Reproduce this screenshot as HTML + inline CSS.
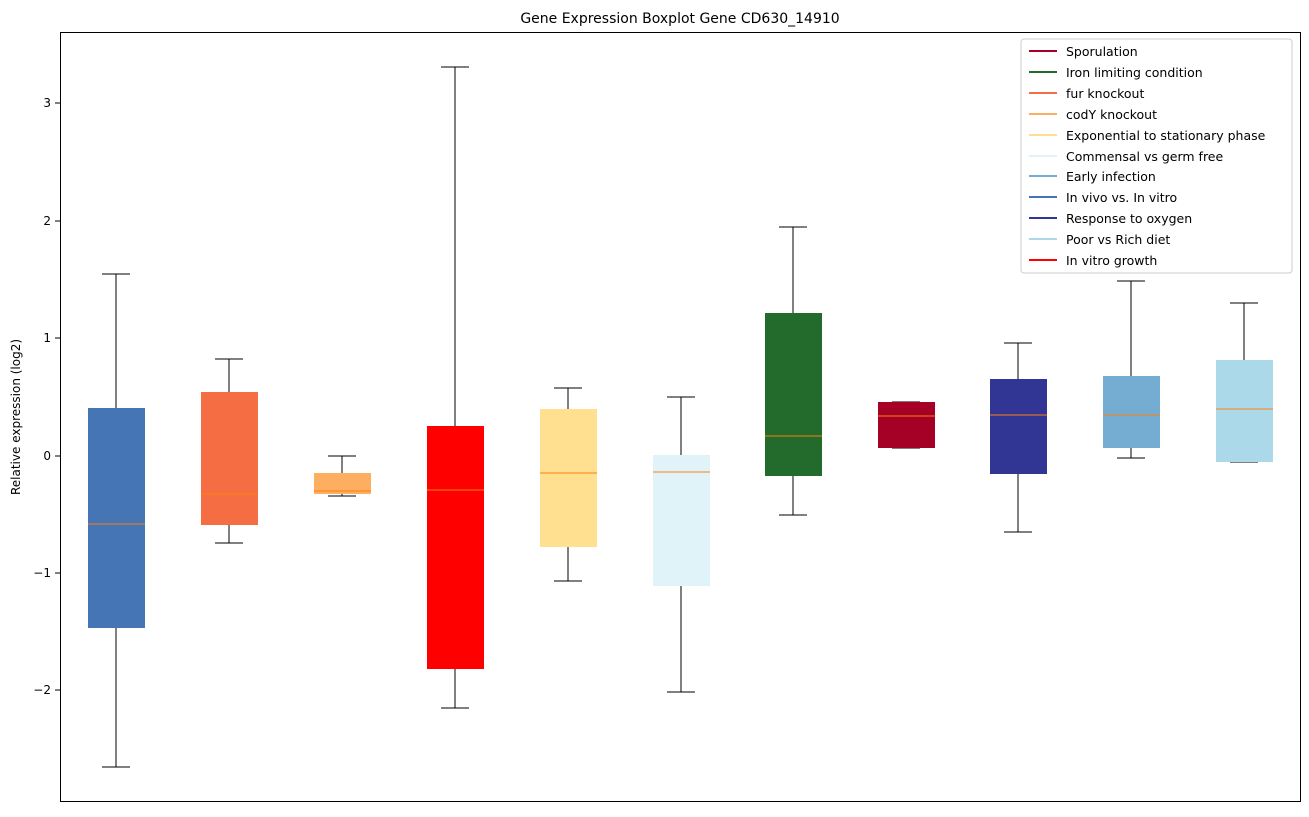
<!DOCTYPE html>
<html><head><meta charset="utf-8"><style>
body{margin:0;background:#fff;}
text{font-family:"DejaVu Sans","Liberation Sans",sans-serif;}
</style></head><body>
<svg width="1309" height="812" viewBox="0 0 1309 812" xmlns="http://www.w3.org/2000/svg">
<rect width="1309" height="812" fill="#fff"/>
<text x="680" y="23" font-size="14" text-anchor="middle">Gene Expression Boxplot Gene CD630_14910</text>
<g font-size="12" text-anchor="end">
<line x1="55" y1="103" x2="60" y2="103" stroke="#000"/><text x="51" y="107">3</text>
<line x1="55" y1="221" x2="60" y2="221" stroke="#000"/><text x="51" y="225">2</text>
<line x1="55" y1="338" x2="60" y2="338" stroke="#000"/><text x="51" y="342">1</text>
<line x1="55" y1="456" x2="60" y2="456" stroke="#000"/><text x="51" y="460">0</text>
<line x1="55" y1="573" x2="60" y2="573" stroke="#000"/><text x="51" y="577">−1</text>
<line x1="55" y1="690" x2="60" y2="690" stroke="#000"/><text x="51" y="694">−2</text>
</g>
<text transform="translate(20,417) rotate(-90)" font-size="12" text-anchor="middle">Relative expression (log2)</text>
<g stroke="#000" stroke-width="1">
<line x1="116" y1="274" x2="116" y2="408"/><line x1="116" y1="628" x2="116" y2="767"/><line x1="102" y1="274" x2="130" y2="274"/><line x1="102" y1="767" x2="130" y2="767"/>
<rect x="88" y="408" width="57" height="220" fill="#4575b4" stroke="none"/>
<line x1="229" y1="359" x2="229" y2="392"/><line x1="229" y1="525" x2="229" y2="543"/><line x1="215" y1="359" x2="243" y2="359"/><line x1="215" y1="543" x2="243" y2="543"/>
<rect x="201" y="392" width="57" height="133" fill="#f46d43" stroke="none"/>
<line x1="342" y1="456" x2="342" y2="473"/><line x1="342" y1="494" x2="342" y2="496"/><line x1="328" y1="456" x2="356" y2="456"/><line x1="328" y1="496" x2="356" y2="496"/>
<rect x="314" y="473" width="57" height="21" fill="#fdae61" stroke="none"/>
<line x1="455" y1="67" x2="455" y2="426"/><line x1="455" y1="669" x2="455" y2="708"/><line x1="441" y1="67" x2="469" y2="67"/><line x1="441" y1="708" x2="469" y2="708"/>
<rect x="427" y="426" width="57" height="243" fill="#ff0000" stroke="none"/>
<line x1="568" y1="388" x2="568" y2="409"/><line x1="568" y1="547" x2="568" y2="581"/><line x1="554" y1="388" x2="582" y2="388"/><line x1="554" y1="581" x2="582" y2="581"/>
<rect x="540" y="409" width="57" height="138" fill="#fee090" stroke="none"/>
<line x1="681" y1="397" x2="681" y2="455"/><line x1="681" y1="586" x2="681" y2="692"/><line x1="667" y1="397" x2="695" y2="397"/><line x1="667" y1="692" x2="695" y2="692"/>
<rect x="653" y="455" width="57" height="131" fill="#e0f3f8" stroke="none"/>
<line x1="793" y1="227" x2="793" y2="313"/><line x1="793" y1="476" x2="793" y2="515"/><line x1="779" y1="227" x2="807" y2="227"/><line x1="779" y1="515" x2="807" y2="515"/>
<rect x="765" y="313" width="57" height="163" fill="#226b2d" stroke="none"/>
<line x1="892" y1="402" x2="920" y2="402"/><line x1="892" y1="448" x2="920" y2="448"/>
<rect x="878" y="402" width="57" height="46" fill="#a50026" stroke="none"/>
<line x1="1018" y1="343" x2="1018" y2="379"/><line x1="1018" y1="474" x2="1018" y2="532"/><line x1="1004" y1="343" x2="1032" y2="343"/><line x1="1004" y1="532" x2="1032" y2="532"/>
<rect x="990" y="379" width="57" height="95" fill="#313695" stroke="none"/>
<line x1="1131" y1="281" x2="1131" y2="376"/><line x1="1131" y1="448" x2="1131" y2="458"/><line x1="1117" y1="281" x2="1145" y2="281"/><line x1="1117" y1="458" x2="1145" y2="458"/>
<rect x="1103" y="376" width="57" height="72" fill="#74add1" stroke="none"/>
<line x1="1244" y1="303" x2="1244" y2="360"/><line x1="1230" y1="303" x2="1258" y2="303"/><line x1="1230" y1="462" x2="1258" y2="462"/>
<rect x="1216" y="360" width="57" height="102" fill="#abd9e9" stroke="none"/>
</g>
<g stroke="#ff7f0e" stroke-width="1">
<line x1="88" y1="524" x2="145" y2="524"/><line x1="201" y1="494" x2="258" y2="494"/><line x1="314" y1="491" x2="371" y2="491"/><line x1="427" y1="490" x2="484" y2="490"/><line x1="540" y1="473" x2="597" y2="473"/><line x1="653" y1="472" x2="710" y2="472"/><line x1="765" y1="436" x2="822" y2="436"/><line x1="878" y1="416" x2="935" y2="416"/><line x1="990" y1="415" x2="1047" y2="415"/><line x1="1103" y1="415" x2="1160" y2="415"/><line x1="1216" y1="409" x2="1273" y2="409"/>
</g>
<rect x="60.5" y="32.5" width="1240" height="769" fill="none" stroke="#000"/>
<rect x="1021" y="39" width="271" height="234" rx="3" fill="#fff" fill-opacity="0.8" stroke="#ccc"/>
<g font-size="12.5" stroke-width="2">
<line x1="1029" y1="51" x2="1057" y2="51" stroke="#a50026"/><text x="1066" y="56">Sporulation</text>
<line x1="1029" y1="72" x2="1057" y2="72" stroke="#226b2d"/><text x="1066" y="77">Iron limiting condition</text>
<line x1="1029" y1="93" x2="1057" y2="93" stroke="#f46d43"/><text x="1066" y="98">fur knockout</text>
<line x1="1029" y1="114" x2="1057" y2="114" stroke="#fdae61"/><text x="1066" y="119">codY knockout</text>
<line x1="1029" y1="135" x2="1057" y2="135" stroke="#fee090"/><text x="1066" y="140">Exponential to stationary phase</text>
<line x1="1029" y1="156" x2="1057" y2="156" stroke="#e0f3f8"/><text x="1066" y="161">Commensal vs germ free</text>
<line x1="1029" y1="176" x2="1057" y2="176" stroke="#74add1"/><text x="1066" y="181">Early infection</text>
<line x1="1029" y1="197" x2="1057" y2="197" stroke="#4575b4"/><text x="1066" y="202">In vivo vs. In vitro</text>
<line x1="1029" y1="218" x2="1057" y2="218" stroke="#313695"/><text x="1066" y="223">Response to oxygen</text>
<line x1="1029" y1="239" x2="1057" y2="239" stroke="#abd9e9"/><text x="1066" y="244">Poor vs Rich diet</text>
<line x1="1029" y1="260" x2="1057" y2="260" stroke="#ff0000"/><text x="1066" y="265">In vitro growth</text>
</g>
</svg>
</body></html>
